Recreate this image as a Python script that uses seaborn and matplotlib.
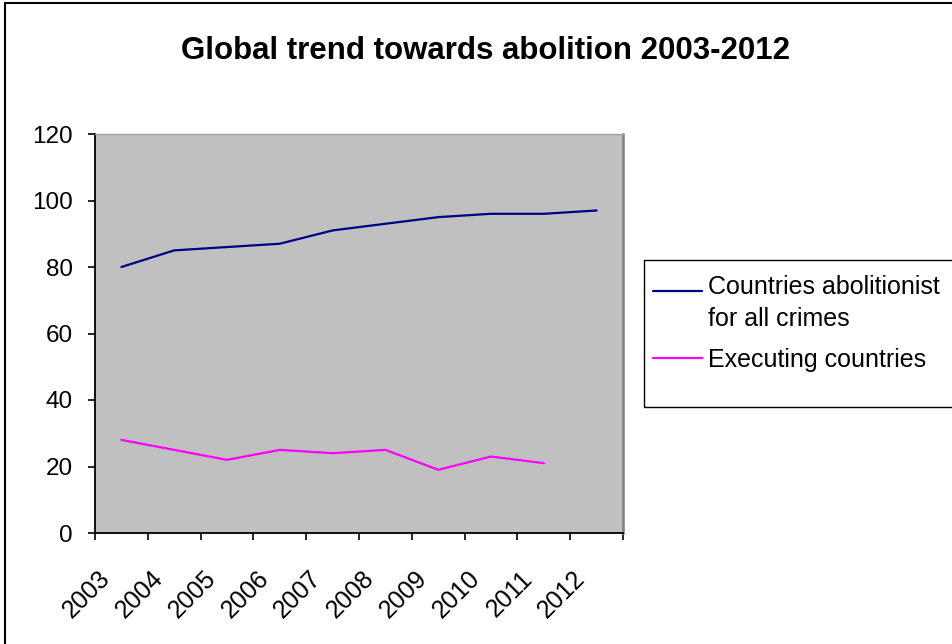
import pandas as pd
import matplotlib
matplotlib.use('Agg')
import matplotlib.pyplot as plt
from matplotlib.lines import Line2D
from matplotlib.patches import Rectangle
from matplotlib.ticker import FixedLocator
from matplotlib.transforms import ScaledTranslation
from matplotlib.legend_handler import HandlerLine2D
import seaborn as sns

# dados
anos = [2003, 2004, 2005, 2006, 2007, 2008, 2009, 2010, 2011, 2012]
abolicionistas = [80, 85, 86, 87, 91, 93, 95, 96, 96, 97]
executores = [28, 25, 22, 25, 24, 25, 19, 23, 21, None]
nomes_series = ['Countries abolitionist\nfor all crimes', 'Executing countries']
cores = ['#000080', '#FF00FF']
titulo = 'Global trend towards abolition 2003-2012'

df = pd.DataFrame({
    'ano': anos + anos,
    'valor': abolicionistas + executores,
    'serie': [nomes_series[0]] * len(anos) + [nomes_series[1]] * len(anos),
})
df = df.dropna()

sns.set_style('ticks')
plt.rcParams['font.family'] = ['Liberation Sans', 'DejaVu Sans']
plt.rcParams['text.color'] = 'black'
plt.rcParams['xtick.color'] = 'black'
plt.rcParams['ytick.color'] = 'black'
plt.rcParams['xtick.labelcolor'] = 'black'
plt.rcParams['ytick.labelcolor'] = 'black'

fig = plt.figure(figsize=(9.52, 6.44), dpi=100)
ax = fig.add_axes([95/952, 1-533/644, (623-95)/952, (533-134)/644])
ax.set_facecolor('#C0C0C0')

sns.lineplot(data=df, x='ano', y='valor', hue='serie', hue_order=nomes_series,
             palette=cores, linewidth=1.6, errorbar=None, legend=False, ax=ax)

ax.set_xlim(anos[0] - 0.5, anos[-1] + 0.5)
ax.set_ylim(0, 120)
ax.set_yticks(range(0, 121, 20))
ax.set_xticks(anos)
ax.set_xticklabels([str(a) for a in anos], rotation=45, ha='right',
                   va='center', rotation_mode='anchor')
ax.xaxis.set_minor_locator(FixedLocator([a - 0.5 for a in anos] + [anos[-1] + 0.5]))
ax.tick_params(axis='x', which='major', length=0, pad=30, labelsize=18)
ax.tick_params(axis='x', which='minor', length=5, width=1.2, direction='out', color='black')
ax.tick_params(axis='y', length=5, width=1.2, direction='out', pad=11, labelsize=17.5)
ax.set_xlabel('')
ax.set_ylabel('')
ax.grid(False)
desloc = ScaledTranslation(-15/100, 0, fig.dpi_scale_trans)
for rotulo in ax.get_xticklabels():
    rotulo.set_transform(rotulo.get_transform() + desloc)

for lado in ['left', 'bottom']:
    ax.spines[lado].set_color('black')
    ax.spines[lado].set_linewidth(1.3)
ax.spines['top'].set_color('#A0A0A0')
ax.spines['top'].set_linewidth(1.0)
ax.spines['right'].set_color('#808080')
ax.spines['right'].set_linewidth(1.8)

fig.text(486/952, 1-51/644, titulo, ha='center', va='center',
         fontsize=22.5, fontweight='bold', color='black')


# linha da legenda alinhada com a primeira linha do texto (como no Excel)
class HandlerTopo(HandlerLine2D):
    def create_artists(self, legend, orig_handle, xdescent, ydescent,
                       width, height, fontsize, trans):
        arts = super().create_artists(legend, orig_handle, xdescent, ydescent,
                                      width, height, fontsize, trans)
        for a in arts:
            a.set_ydata([y + 0.5 * fontsize for y in a.get_ydata()])
        return arts


leg = fig.legend(ax.lines[:2], nomes_series, loc='upper left',
                 bbox_to_anchor=(653/952, 1-275/644), borderaxespad=0,
                 frameon=False, fontsize=18, handlelength=1.96,
                 handletextpad=0.25, borderpad=0, labelspacing=0.68,
                 handler_map={ax.lines[0]: HandlerTopo()})
for t in leg.get_texts():
    t.set_linespacing(1.42)

# caixa da legenda
fig.add_artist(Rectangle((644/952, 1-407/644), 320/952, (407-260)/644,
                         transform=fig.transFigure, fill=False,
                         edgecolor='black', linewidth=1.0, zorder=0))

# moldura externa do grafico
fig.add_artist(Line2D([5/952, 5/952], [0, 1-3/644], transform=fig.transFigure,
                      color='black', linewidth=1.5))
fig.add_artist(Line2D([5/952, 1], [1-3/644, 1-3/644], transform=fig.transFigure,
                      color='black', linewidth=1.5))

fig.savefig('out.png', dpi=100)
